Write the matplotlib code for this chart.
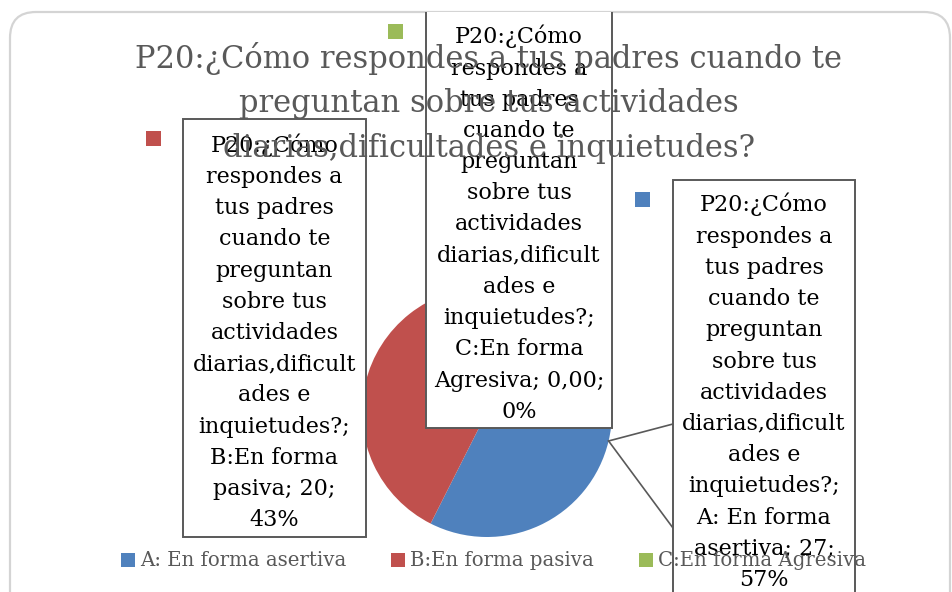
import matplotlib
matplotlib.use('Agg')
import matplotlib.pyplot as plt
from matplotlib.patches import Rectangle, FancyBboxPatch
import numpy as np

# ---- data ----
title_lines = ["P20:¿Cómo respondes a tus padres cuando te",
               "preguntan sobre tus actividades",
               "diarias,dificultades e inquietudes?"]
question_wrapped = ["P20:¿Cómo", "respondes a", "tus padres", "cuando te",
                    "preguntan", "sobre tus", "actividades", "diarias,dificult",
                    "ades e", "inquietudes?;"]
categories = ["A: En forma asertiva", "B:En forma pasiva", "C:En forma Agresiva"]
values = [27, 20, 0]
colors = ["#4F81BD", "#C0504D", "#9BBB59"]

# ---- layout (pixels) ----
W, H = 953, 592
FONT = "DejaVu Serif"
pie_c = (487, 412)
pie_r = 125
boxes = [(673, 855, 180, 610), (183, 366, 119, 537), (426, 612, -30, 428)]
first_base = [211.5, 151.7, 43.3]
keys = [(635, 192), (146, 131), (388, 24)]
step = 31.2

fig = plt.figure(figsize=(W / 100, H / 100), dpi=100)
fig.patch.set_facecolor("white")

ax = fig.add_axes([(pie_c[0] - pie_r) / W, (H - pie_c[1] - pie_r) / H,
                   2 * pie_r / W, 2 * pie_r / H])
ax.set_zorder(0)
wedges, _ = ax.pie(values, colors=colors, startangle=90, counterclock=False,
                   wedgeprops=dict(linewidth=0))
ax.set_xlim(-1, 1)
ax.set_ylim(-1, 1)
ax.set_aspect('auto')

ov = fig.add_axes([0, 0, 1, 1])
ov.set_zorder(1)
ov.set_xlim(0, W)
ov.set_ylim(H, 0)
ov.axis('off')

border = FancyBboxPatch((10, 12), 940, 620,
                        boxstyle="round,pad=0,rounding_size=26",
                        facecolor="none", edgecolor="#d4d4d4", linewidth=1.6,
                        zorder=1)
ov.add_patch(border)

total = sum(values)
def fmt_val(v):
    return "0,00" if v == 0 else str(v)

# callout for A
w0 = wedges[0]
mid = np.deg2rad((w0.theta1 + w0.theta2) / 2)
disp = ax.transData.transform((np.cos(mid), np.sin(mid)))
anc = ov.transData.inverted().transform(disp)
ov.plot([anc[0], boxes[0][0]], [anc[1], 424], color="#595959", lw=1.2, zorder=2)
ov.plot([anc[0], boxes[0][0]], [anc[1], 528], color="#595959", lw=1.2, zorder=2)

for i, cat in enumerate(categories):
    x0, x1, y0, y1 = boxes[i]
    rect = Rectangle((x0, y0), x1 - x0, y1 - y0, facecolor="white",
                     edgecolor="#595959", linewidth=1.4, zorder=3)
    ov.add_patch(rect)
    rect.set_clip_path(border)
    head, last = cat.rsplit(" ", 1)
    pct = round(100 * values[i] / total)
    lines = question_wrapped + [head, f"{last}; {fmt_val(values[i])};", f"{pct}%"]
    cx = (x0 + x1) / 2
    for j, ln in enumerate(lines):
        t = ov.text(cx, first_base[i] + j * step, ln, ha="center", va="baseline",
                    fontsize=16, family=FONT, color="black", zorder=4)
        t.set_clip_path(border)
    kx, ky = keys[i]
    ov.add_patch(Rectangle((kx, ky), 15, 15, facecolor=colors[i],
                           edgecolor="none", zorder=4))

title_base = [68, 112, 157]
for j, ln in enumerate(title_lines):
    ov.text(489, title_base[j], ln, ha="center", va="baseline", fontsize=22,
            family=FONT, color="#595959", zorder=5)

leg = fig.legend(wedges, categories, loc="center",
                 bbox_to_anchor=(493.5 / W, 1 - 561 / H), ncol=3, frameon=False,
                 handlelength=0.7, handleheight=0.7, handletextpad=0.25,
                 columnspacing=2.3, prop=dict(family=FONT, size=14.2))
leg.set_zorder(6)
for t in leg.get_texts():
    t.set_color("#595959")

fig.savefig("out.png", dpi=100, facecolor="white")
